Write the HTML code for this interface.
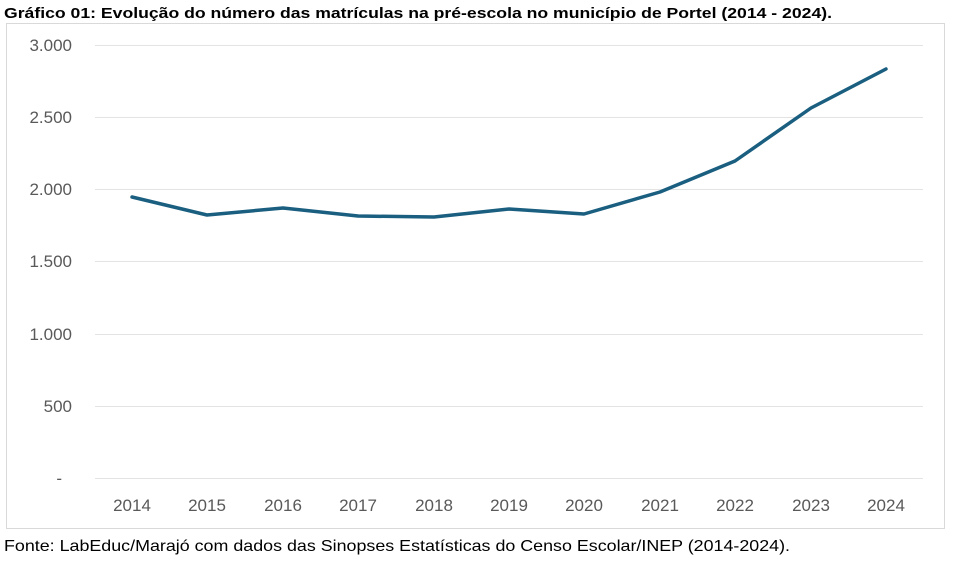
<!DOCTYPE html>
<html><head><meta charset="utf-8"><style>
body{margin:0;background:#fff;width:954px;height:559px;overflow:hidden;font-family:"Liberation Sans",sans-serif}
</style></head><body>
<svg width="954" height="559" viewBox="0 0 954 559" xmlns="http://www.w3.org/2000/svg" font-family="Liberation Sans, sans-serif">
<text x="4" y="18" font-size="15" font-weight="bold" fill="#000" textLength="828" lengthAdjust="spacingAndGlyphs">Gráfico 01: Evolução do número das matrículas na pré-escola no município de Portel (2014 - 2024).</text>
<rect x="6.5" y="23.5" width="938" height="505" fill="#fff" stroke="#d9d9d9"/>
<g stroke="#e3e3e3" stroke-width="1">
<line x1="95" x2="923" y1="45.5" y2="45.5"/><line x1="95" x2="923" y1="117.5" y2="117.5"/>
<line x1="95" x2="923" y1="189.5" y2="189.5"/><line x1="95" x2="923" y1="261.5" y2="261.5"/>
<line x1="95" x2="923" y1="334.5" y2="334.5"/><line x1="95" x2="923" y1="406.5" y2="406.5"/>
<line x1="95" x2="923" y1="478.5" y2="478.5"/>
</g>
<g font-size="17" fill="#595959" text-anchor="end">
<text x="72" y="51">3.000</text><text x="72" y="123">2.500</text><text x="72" y="195">2.000</text>
<text x="72" y="267">1.500</text><text x="72" y="340">1.000</text><text x="72" y="412">500</text><text x="62" y="484">-</text>
</g>
<g font-size="17" fill="#595959" text-anchor="middle">
<text x="132" y="511">2014</text><text x="207" y="511">2015</text><text x="283" y="511">2016</text>
<text x="358" y="511">2017</text><text x="434" y="511">2018</text><text x="509" y="511">2019</text>
<text x="584" y="511">2020</text><text x="660" y="511">2021</text><text x="735" y="511">2022</text>
<text x="811" y="511">2023</text><text x="886" y="511">2024</text>
</g>
<polyline fill="none" stroke="#1a5e80" stroke-width="3.5" stroke-linejoin="round" stroke-linecap="round"
points="132,197 207,215 283,208 358,216 434,217 509,209 584,214 660,192 735,161 811,108 886,69"/>
<text x="4" y="551" font-size="16" fill="#000" textLength="786" lengthAdjust="spacingAndGlyphs">Fonte: LabEduc/Marajó com dados das Sinopses Estatísticas do Censo Escolar/INEP (2014-2024).</text>
</svg>
</body></html>
